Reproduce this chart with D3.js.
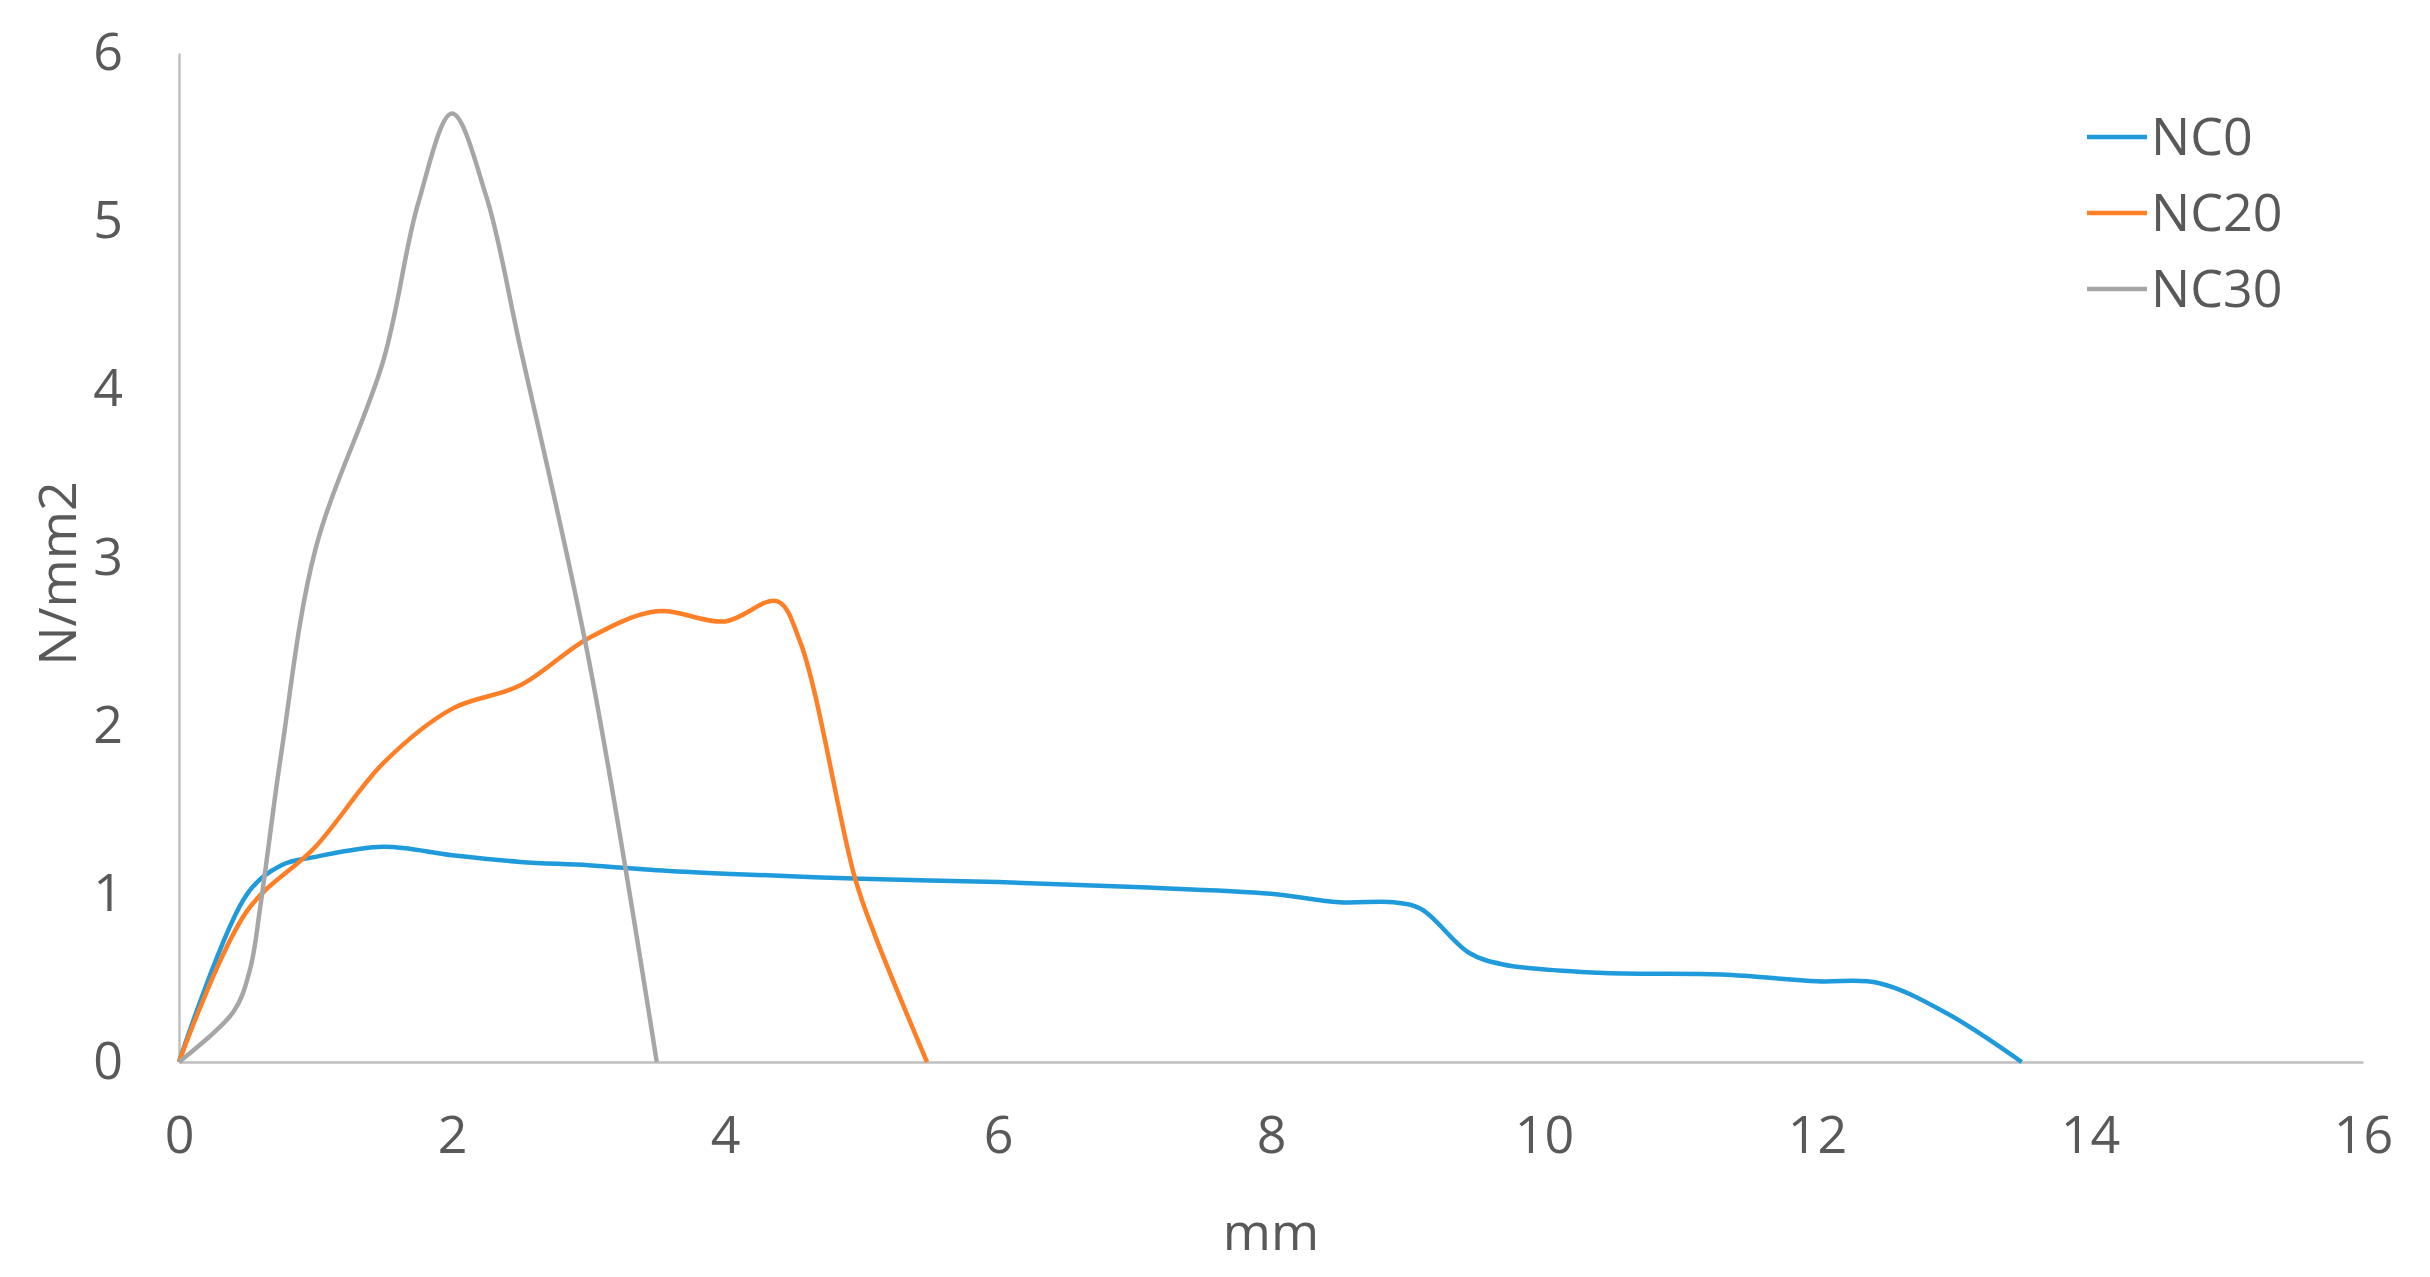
<!DOCTYPE html>
<html>
<head>
<meta charset="utf-8">
<script src="https://cdn.jsdelivr.net/npm/d3@7"></script>
<style>
  html, body { margin: 0; padding: 0; background: #fff; }
  svg { display: block; }
  text { font-family: "Open Sans", "Noto Sans", sans-serif; fill: #595959; }
</style>
</head>
<body>
<script>
// ---- data ----
const seriesNames = ["NC0", "NC20", "NC30"];
const seriesColors = ["#1f9bdc", "#ff7f27", "#a6a6a6"];
const xTicks = [0, 2, 4, 6, 8, 10, 12, 14, 16];
const yTicks = [0, 1, 2, 3, 4, 5, 6];
const xTitle = "mm";
const yTitle = "N/mm2";

const nc0 = [[0,0],[0.5,1.0],[0.75,1.17],[1.0,1.22],[1.5,1.28],[2.0,1.23],[2.5,1.19],[3.0,1.17],[3.5,1.14],[4.0,1.12],[5.0,1.09],[6.0,1.07],[7.0,1.04],[8.0,1.00],[8.5,0.95],[8.9,0.95],[9.1,0.91],[9.45,0.65],[9.7,0.58],[10.4,0.53],[11.3,0.52],[12.0,0.48],[12.45,0.47],[12.95,0.29],[13.5,0]];
const nc20 = [[0,0],[0.5,0.9],[1.0,1.28],[1.5,1.78],[2.0,2.10],[2.5,2.24],[3.0,2.52],[3.5,2.68],[4.0,2.62],[4.38,2.74],[4.55,2.5],[4.95,1.1],[5.1,0.75],[5.48,0]];
const nc30 = [[0,0],[0.4,0.3],[0.52,0.55],[0.6,0.95],[0.75,1.84],[1.0,3.05],[1.5,4.18],[1.75,5.1],[2.0,5.64],[2.25,5.15],[2.5,4.25],[3.0,2.4],[3.5,0]];
const seriesData = [nc0, nc20, nc30];

// ---- layout ----
const W = 2430, H = 1277;
const plot = { left: 179, right: 2363, top: 53, bottom: 1062 };

const svg = d3.select("body").append("svg").attr("width", W).attr("height", H);

const x = d3.scaleLinear().domain([0, 16]).range([plot.left, plot.right]);
const y = d3.scaleLinear().domain([0, 6]).range([plot.bottom, plot.top]);

// axes
const xAxis = svg.append("g").attr("transform", `translate(0,${plot.bottom})`)
  .call(d3.axisBottom(x).tickValues(xTicks).tickSize(0).tickPadding(54).tickFormat(d3.format("d")));
const yAxis = svg.append("g").attr("transform", `translate(${plot.left},0)`)
  .call(d3.axisLeft(y).tickValues(yTicks).tickSize(0).tickPadding(56).tickFormat(d3.format("d")));
[xAxis, yAxis].forEach(g => {
  g.select(".domain").attr("stroke", "#bfbfbf").attr("stroke-width", 2.5);
  g.selectAll("text").attr("font-size", 52).attr("fill", "#595959")
    .attr("font-family", '"Open Sans", "Noto Sans", sans-serif');
});

// lines
const line = d3.line().x(d => x(d[0])).y(d => y(d[1])).curve(d3.curveCatmullRom.alpha(0.5));
svg.append("g").selectAll("path").data(seriesData).join("path")
  .attr("d", line)
  .attr("fill", "none")
  .attr("stroke", (d, i) => seriesColors[i])
  .attr("stroke-width", 4.5)
  .attr("stroke-linejoin", "round");

// axis titles
svg.append("text").attr("x", (plot.left + plot.right) / 2).attr("y", 1250)
  .attr("text-anchor", "middle").attr("font-size", 52).text(xTitle);
svg.append("text").attr("transform", `translate(76,${(plot.top + plot.bottom) / 2 + 16}) rotate(-90)`)
  .attr("text-anchor", "middle").attr("font-size", 52).text(yTitle);

// legend
const legend = svg.append("g");
const lg = legend.selectAll("g").data(seriesNames).join("g")
  .attr("transform", (d, i) => `translate(2087,${137 + i * 76})`);
lg.append("line").attr("x1", 0).attr("x2", 60).attr("y1", 0).attr("y2", 0)
  .attr("stroke", (d, i) => seriesColors[i]).attr("stroke-width", 4.5);
lg.append("text").attr("x", 64).attr("y", 18).attr("font-size", 52).text(d => d);
</script>
</body>
</html>
